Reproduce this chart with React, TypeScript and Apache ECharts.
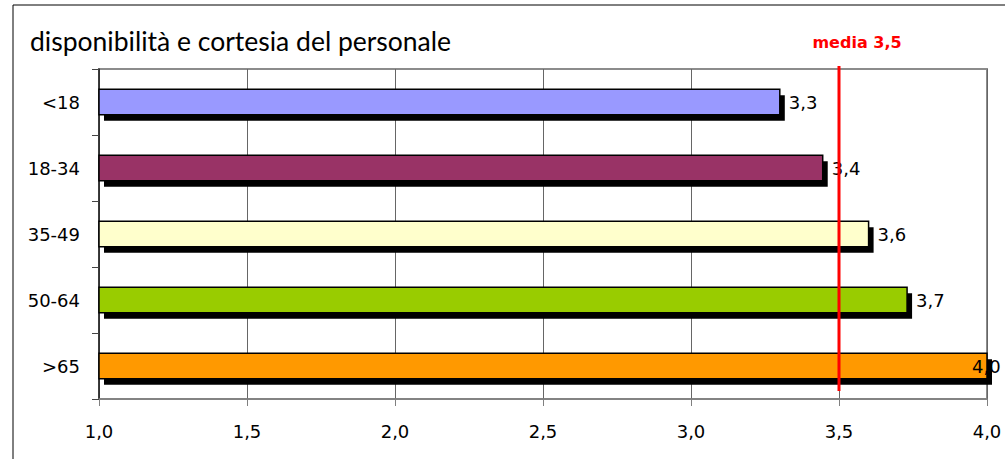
import React, { useEffect, useRef } from "react";
import * as echarts from "echarts";

const titleText = "disponibilità e cortesia del personale";
const categories = ["<18", "18-34", "35-49", "50-64", ">65"];
const values = [3.3, 3.445, 3.6, 3.73, 4.0];
const barColors = ["#9999FF", "#993366", "#FFFFCC", "#99CC00", "#FF9900"];
const xMin = 1.0;
const xMax = 4.0;
const xStep = 0.5;
const mediaValue = 3.5;
const mediaLabel = "media 3,5";

const TITLE_FONT = "Lato, 'Open Sans', sans-serif";
const FONT = "'DejaVu Sans', sans-serif";
const fmt = (v: number) => v.toFixed(1).replace(".", ",");

export default function App() {
  const ref = useRef<HTMLDivElement>(null);
  useEffect(() => {
    document.body.style.margin = "0";
    const chart = echarts.init(ref.current!, null, { renderer: "svg" });
    chart.setOption({
      animation: false,
      backgroundColor: "#fff",
      title: {
        text: titleText,
        left: 25,
        top: 22,
        textStyle: { fontFamily: TITLE_FONT, fontSize: 26.5, fontWeight: "normal", color: "#000" },
      },
      graphic: [
        {
          type: "rect",
          shape: { x: 13, y: 5, width: 1200, height: 800 },
          style: { fill: "none", stroke: "#000", lineWidth: 1 },
          silent: true,
          z: 0,
        },
      ],
      grid: {
        left: 99,
        top: 69,
        right: 18,
        bottom: 60,
        show: true,
        borderColor: "#8c8c8c",
        borderWidth: 2,
        backgroundColor: "#fff",
      },
      xAxis: {
        type: "value",
        min: xMin,
        max: xMax,
        interval: xStep,
        axisLine: { show: true, lineStyle: { color: "#808080", width: 1.5 } },
        axisTick: { show: true, length: 7, lineStyle: { color: "#808080" } },
        splitLine: { show: true, lineStyle: { color: "#666", width: 1 } },
        axisLabel: {
          formatter: (v: number) => fmt(v),
          fontFamily: FONT,
          fontSize: 18,
          color: "#000",
          margin: 23,
        },
      },
      yAxis: {
        type: "category",
        data: categories,
        inverse: true,
        axisLine: { show: true, lineStyle: { color: "#222", width: 1.5 } },
        axisTick: { show: true, length: 7, lineStyle: { color: "#444" } },
        axisLabel: { fontFamily: FONT, fontSize: 18, color: "#000", margin: 19 },
        splitLine: { show: false },
      },
      series: [
        {
          type: "custom",
          clip: false,
          encode: { x: 0, y: 1 },
          data: values.map((v, i) => [v, i]),
          renderItem: (params: any, api: any) => {
            const idx = api.value(1);
            const v = api.value(0);
            const start = api.coord([xMin, idx]);
            const end = api.coord([v, idx]);
            const bandH = api.size([0, 1])[1];
            const h = bandH * 0.39;
            const y = start[1] - h / 2;
            const w = end[0] - start[0];
            const labelX = Math.min(end[0] + 9, 1005 - 33);
            return {
              type: "group",
              children: [
                {
                  type: "rect",
                  shape: { x: start[0] + 5, y: y + 6, width: w, height: h },
                  style: { fill: "#000" },
                },
                {
                  type: "rect",
                  shape: { x: start[0], y, width: w, height: h },
                  style: { fill: barColors[idx], stroke: "#000", lineWidth: 1.5 },
                },
                {
                  type: "text",
                  x: labelX,
                  y: start[1],
                  style: {
                    text: fmt(v),
                    fill: "#000",
                    font: `18px ${FONT}`,
                    verticalAlign: "middle",
                    align: "left",
                  },
                  z2: 10,
                },
              ],
            };
          },
          z: 5,
        },
        {
          type: "custom",
          clip: false,
          encode: { x: 0, y: 1 },
          data: [[mediaValue, 0]],
          renderItem: (params: any, api: any) => {
            const cs = params.coordSys;
            const p = api.coord([api.value(0), 0]);
            return {
              type: "group",
              children: [
                {
                  type: "line",
                  shape: { x1: p[0], y1: cs.y - 3, x2: p[0], y2: cs.y + cs.height - 8 },
                  style: { stroke: "#FF0000", lineWidth: 3 },
                },
                {
                  type: "text",
                  x: p[0] + 18,
                  y: cs.y - 27,
                  style: {
                    text: mediaLabel,
                    fill: "#FF0000",
                    font: `bold 16px ${FONT}`,
                    align: "center",
                    verticalAlign: "middle",
                  },
                },
              ],
            };
          },
          z: 6,
        },
      ],
    });
    return () => chart.dispose();
  }, []);
  return <div ref={ref} style={{ width: 1005, height: 459 }} />;
}
